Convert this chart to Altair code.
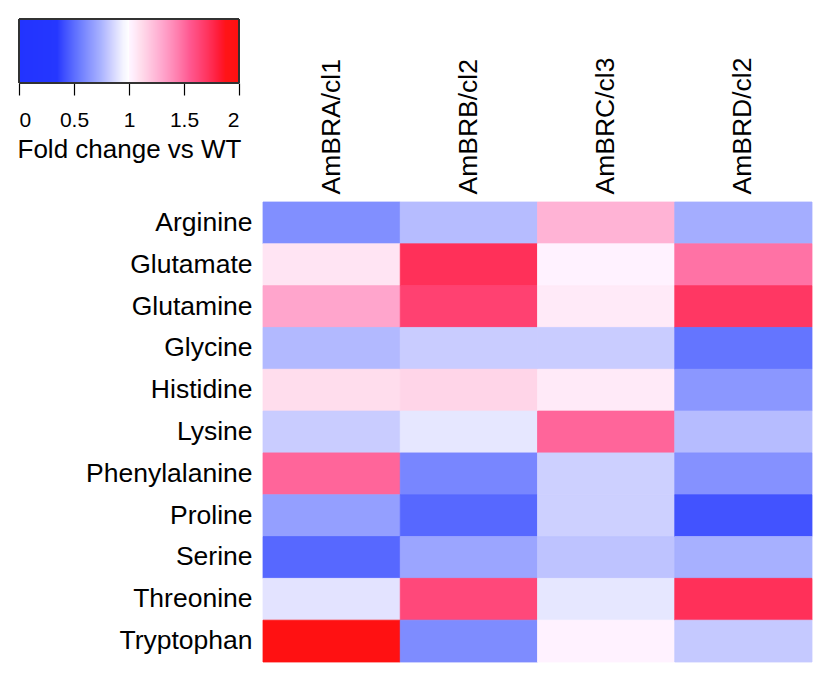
import altair as alt
import numpy as np
import pandas as pd

rows = ["Arginine", "Glutamate", "Glutamine", "Glycine", "Histidine", "Lysine",
        "Phenylalanine", "Proline", "Serine", "Threonine", "Tryptophan"]
cols = ["AmBRA/cl1", "AmBRB/cl2", "AmBRC/cl3", "AmBRD/cl2"]

ambra_cl1 = [0.62, 1.08, 1.31, 0.77, 1.11, 0.83, 1.52, 0.68, 0.49, 0.90, 1.97]
ambrb_cl2 = [0.78, 1.73, 1.66, 0.83, 1.14, 0.91, 0.59, 0.49, 0.70, 1.63, 0.61]
ambrc_cl3 = [1.26, 1.02, 1.055, 0.83, 1.055, 1.52, 0.84, 0.84, 0.80, 0.91, 1.02]
ambrd_cl2 = [0.73, 1.48, 1.70, 0.53, 0.65, 0.78, 0.63, 0.425, 0.74, 1.73, 0.82]

legend_ticks = [0, 0.5, 1, 1.5, 2]
legend_title = "Fold change vs WT"

color_stops = [0, 0.35, 0.55, 0.75, 0.95, 1.0, 1.1, 1.3, 1.55, 1.75, 1.88, 2]
color_range = ["#2233FF", "#2537FF", "#6A7BFF", "#AAB3FF", "#F4F4FF", "#FFFFFF",
               "#FFE0EE", "#FFA8CE", "#FF5A92", "#FF2C52", "#FF1418", "#FF1010"]

series = [ambra_cl1, ambrb_cl2, ambrc_cl3, ambrd_cl2]
records = []
for c, vals in zip(cols, series):
    for r, v in zip(rows, vals):
        records.append({"row": r, "col": c, "value": v})
df = pd.DataFrame(records)

cscale = alt.Scale(domain=color_stops, range=color_range, type="linear", clamp=True)

W, H = 549, 460

heat = alt.Chart(df).mark_rect(strokeWidth=0.8).encode(
    x=alt.X("col:N", sort=cols, title=None,
            scale=alt.Scale(paddingInner=0, paddingOuter=0),
            axis=alt.Axis(orient="top", labelAngle=-90, labelAlign="left",
                          labelBaseline="middle", labelFontSize=26.5, labelPadding=8,
                          ticks=False, tickSize=0, domain=False, labelColor="black")),
    y=alt.Y("row:N", sort=rows, title=None,
            scale=alt.Scale(paddingInner=0, paddingOuter=0),
            axis=alt.Axis(labelFontSize=26.5, labelPadding=11, ticks=False, tickSize=0,
                          domain=False, labelColor="black")),
    color=alt.Color("value:Q", scale=cscale, legend=None),
    stroke=alt.Stroke("value:Q", scale=cscale, legend=None),
)

# colour bar (legend) drawn as a strip of rects
steps = np.linspace(0, 2, 221)
grad = pd.DataFrame({"v": steps[:-1], "v2": np.minimum(steps[:-1] + 1.6 * (steps[1] - steps[0]), 2)})
grad["c"] = (grad["v"] + grad["v2"]) / 2

bar = alt.Chart(grad).mark_rect().encode(
    x=alt.X("v:Q", scale=alt.Scale(domain=[0, 2], range=[-244, -24], nice=False, zero=False),
            axis=alt.Axis(orient="bottom", offset=-(H + 119), values=legend_ticks, format="~g",
                          tickSize=12, tickColor="black", tickWidth=1.2, domain=False,
                          grid=False, labelFontSize=21, labelPadding=14, labelColor="black",
                          title=legend_title, titleFontSize=26, titleFontWeight="normal",
                          titlePadding=6, titleColor="black")),
    x2="v2:Q",
    y=alt.value(-183),
    y2=alt.value(-119),
    color=alt.Color("c:Q", scale=cscale, legend=None),
)

border = alt.Chart(grad).mark_rect(fillOpacity=0, stroke="#333333", strokeWidth=1).encode(
    x=alt.datum(0),
    x2=alt.datum(2),
    y=alt.value(-183),
    y2=alt.value(-119),
)

colorbar = alt.layer(bar, border)

chart = alt.layer(heat, colorbar).resolve_scale(
    x="independent", y="independent"
).properties(
    width=W, height=H,
    padding={"left": 9, "top": 10, "right": 5, "bottom": 5},
).configure(
    font="Liberation Sans"
).configure_view(strokeWidth=0)

chart.save("out.html", embed_options={"renderer": "svg", "actions": False})
